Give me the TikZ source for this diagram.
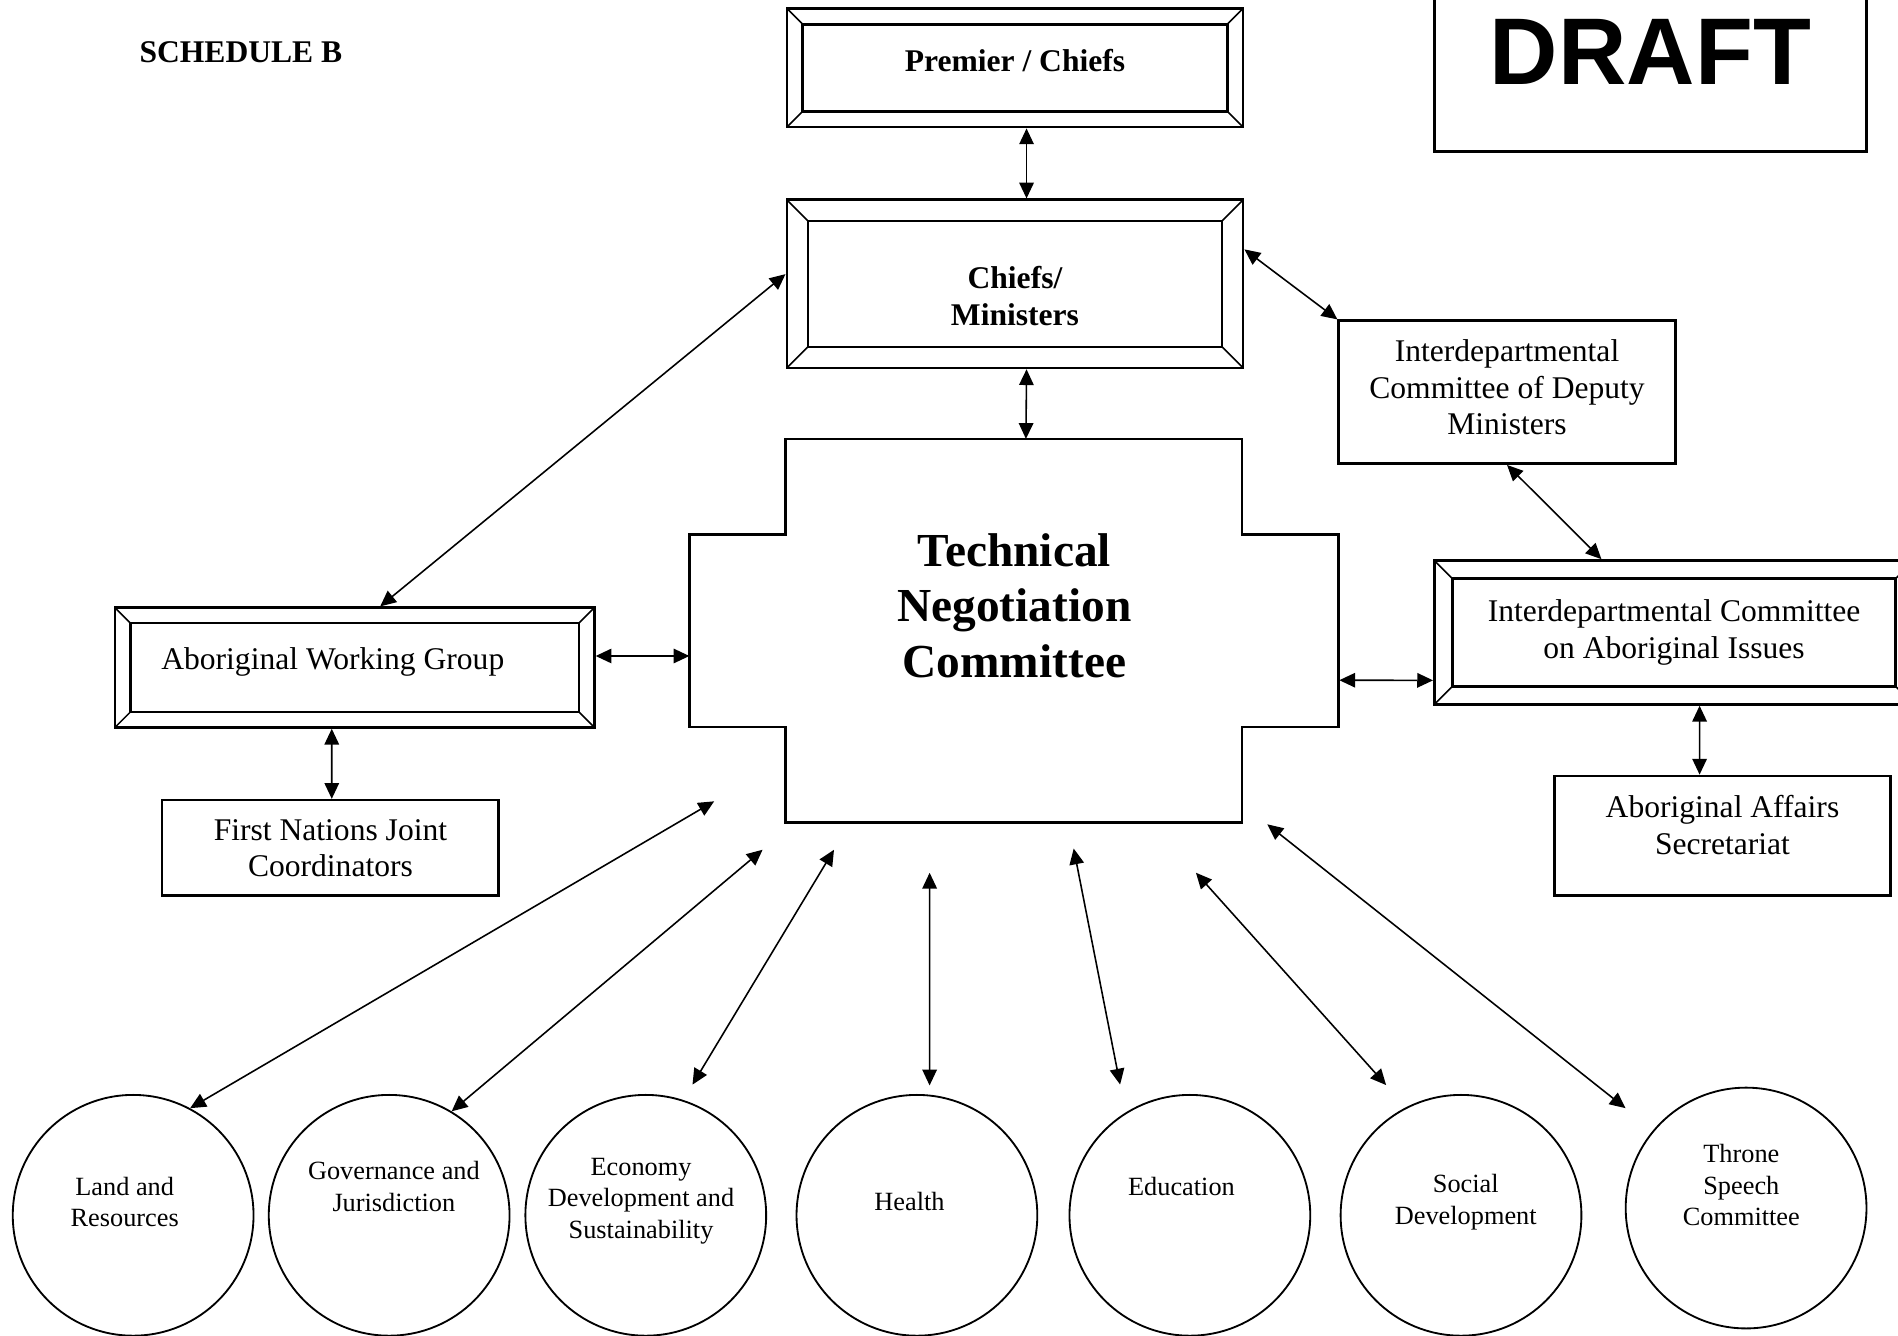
\documentclass[tikz,border=0pt]{standalone}
\usepackage{fontspec}
\setmainfont{Liberation Serif}
\newfontfamily\draftfont{Liberation Sans}
\usetikzlibrary{arrows.meta,calc}
\newcommand{\circD}{91.5pt}
\newcommand{\smallW}{127.9pt}
\newcommand{\wideW}{182.2pt}
\newcommand{\midW}{173.4pt}

\tikzset{
  plainbox/.style={draw, line width=1pt, align=center, inner sep=0pt,
    font=\fontsize{12}{13.8}\selectfont},
  boldtext/.style={align=center, font=\fontsize{12}{13.8}\selectfont\bfseries},
  plaintext/.style={align=center, font=\fontsize{12}{13.8}\selectfont},
  bevel/.style={plainbox, path picture={
      \draw[line width=1pt] ([shift={(#1,-#1)}]path picture bounding box.north west)
        rectangle ([shift={(-#1,#1)}]path picture bounding box.south east);
      \draw[line width=0.6pt] (path picture bounding box.north west) -- ++(#1,-#1)
        (path picture bounding box.north east) -- ++(-#1,-#1)
        (path picture bounding box.south west) -- ++(#1,#1)
        (path picture bounding box.south east) -- ++(-#1,#1);
    }},
  topic/.style={draw, circle, line width=0.7pt, minimum size=\circD, inner sep=0pt},
  topictext/.style={align=center, font=\fontsize{10}{12}\selectfont},
  biarrow/.style={{Triangle[length=6pt,width=5.5pt]}-{Triangle[length=6pt,width=5.5pt]},
    line width=0.6pt}
}

\begin{document}
\begin{tikzpicture}[x=0.46pt, y=-0.46pt]
        \useasboundingbox (0,0) rectangle (1568,1103);

        % Title and draft stamp
        \node[boldtext] (sched) at (199,43) {SCHEDULE B};
        \node[plainbox, minimum width=164.2pt, minimum height=75.9pt,
              font=\draftfont\bfseries\fontsize{36}{40}\selectfont] (draft) at (1363.5,42.5) {DRAFT};

        % Upper boxes
        \node[bevel=6pt, minimum width=\midW, minimum height=45.1pt,
              label={[boldtext, yshift=2.8pt]center:{Premier / Chiefs}}] (premier) at (838.5,56) {};
        \node[bevel=8pt, minimum width=\midW, minimum height=63.9pt,
              label={[boldtext, yshift=-4.6pt]center:{Chiefs/\\Ministers}}] (chiefs) at (838.5,234.5) {};
        \node[plainbox, minimum width=\smallW, minimum height=54.3pt,
              label={[plaintext, yshift=1.8pt]center:{Interdepartmental\\Committee of Deputy\\Ministers}}] (idm) at (1245,324) {};

        % Technical Negotiation Committee (cross outline drawn below)
        \node[minimum width=246.6pt, minimum height=145.8pt, inner sep=0pt,
              label={[align=center, font=\fontsize{18}{21}\selectfont\bfseries, yshift=9.7pt]center:{Technical\\Negotiation\\Committee}}] (tnc) at (838,521.5) {};
        \draw[line width=1pt] ($(tnc.north west)+(79.5,0)$) -- ++(377,0) -- ++(0,79) -- ++(79.5,0)
            -- ++(0,159) -- ++(-79.5,0) -- ++(0,79) -- ++(-377,0) -- ++(0,-79) -- ++(-79.5,0)
            -- ++(0,-159) -- ++(79.5,0) -- cycle;

        % Side boxes
        \node[bevel=5.8pt, minimum width=\wideW, minimum height=45.5pt,
              label={[plaintext, xshift=-8.3pt, yshift=2.3pt]center:{Aboriginal Working Group}}] (awg) at (293,551.5) {};
        \node[plainbox, minimum width=\smallW, minimum height=36.3pt] (fnjc) at (273,700.5) {First Nations Joint\\Coordinators};
        \node[bevel=6.9pt, minimum width=\wideW, minimum height=54.7pt] (icai) at (1383,522.5) {Interdepartmental Committee\\on Aboriginal Issues};
        \node[plainbox, minimum width=\smallW, minimum height=45.5pt,
              label={[plaintext, yshift=4.1pt]center:{Aboriginal Affairs\\Secretariat}}] (aas) at (1423,690.5) {};

        % Topic circles
        \node[topic, label={[topictext, xshift=-3.2pt, yshift=5.1pt]center:{Land and\\Resources}}] (land) at (110,1004) {};
        \node[topic, label={[topictext, xshift=1.8pt, yshift=11pt]center:{Governance and\\Jurisdiction}}] (gov) at (321.5,1004) {};
        \node[topic, label={[topictext, xshift=-1.8pt, yshift=5.5pt]center:{Economy\\Development and\\Sustainability}}] (econ) at (533.5,1004) {};
        \node[topic, label={[topictext, xshift=-2.8pt, yshift=5.1pt]center:{Health}}] (health) at (757.5,1004) {};
        \node[topic, label={[topictext, xshift=-3.2pt, yshift=11pt]center:{Education}}] (edu) at (983,1004) {};
        \node[topic, label={[topictext, xshift=1.8pt, yshift=5.1pt]center:{Social\\Development}}] (social) at (1207,1004) {};
        \node[topic, label={[topictext, xshift=-1.8pt, yshift=8.7pt]center:{Throne\\Speech\\Committee}}] (throne) at (1442.5,998) {};

        % Free ends below the committee
        \coordinate (tLand) at (590,662);
        \coordinate (tGov) at (630,702);
        \coordinate (tEcon) at (689,702);
        \coordinate (tHealth) at (768,721);
        \coordinate (tEdu) at (887,701);
        \coordinate (tSoc) at (988,721);
        \coordinate (tThrone) at (1047,681);

        % Links between the boxes
        \draw[biarrow] ([xshift=4.4pt]premier.south) -- ([xshift=4.4pt]chiefs.north);
        \draw[biarrow] ([xshift=4.4pt]chiefs.south) -- ([xshift=4.4pt]tnc.north);
        \draw[biarrow] ([yshift=3.7pt]chiefs.west) -- ([xshift=9.7pt]awg.north);
        \draw[biarrow] ([yshift=13.1pt]chiefs.east) -- (idm.north west);
        \draw[biarrow] (idm.south) -- ([xshift=-27.6pt]icai.north);
        \draw[biarrow] ([yshift=4.4pt]awg.east) -- ([yshift=-9.4pt]tnc.west);
        \draw[biarrow] ([yshift=-18.6pt]tnc.east) -- ([yshift=-18.2pt]icai.west);
        \draw[biarrow] ([xshift=9.7pt]icai.south) -- ([xshift=-8.7pt]aas.north);
        \draw[biarrow] ([xshift=-8.7pt]awg.south) -- ([xshift=0.5pt]fnjc.north);

        % Links to the topics
        \draw[biarrow] (tLand) -- (land.62);
        \draw[biarrow] (tGov) -- (gov.59);
        \draw[biarrow, shorten >=6.8pt] (tEcon) -- (econ.72);
        \draw[biarrow, shorten >=3.5pt] (tHealth) -- (health.84);
        \draw[biarrow, shorten >=10.8pt] (tEdu) -- (edu.122);
        \draw[biarrow, shorten >=11.3pt] (tSoc) -- (social.117);
        \draw[biarrow, shorten >=13.4pt] (tThrone) -- (throne.140);
    \end{tikzpicture}
\end{document}
